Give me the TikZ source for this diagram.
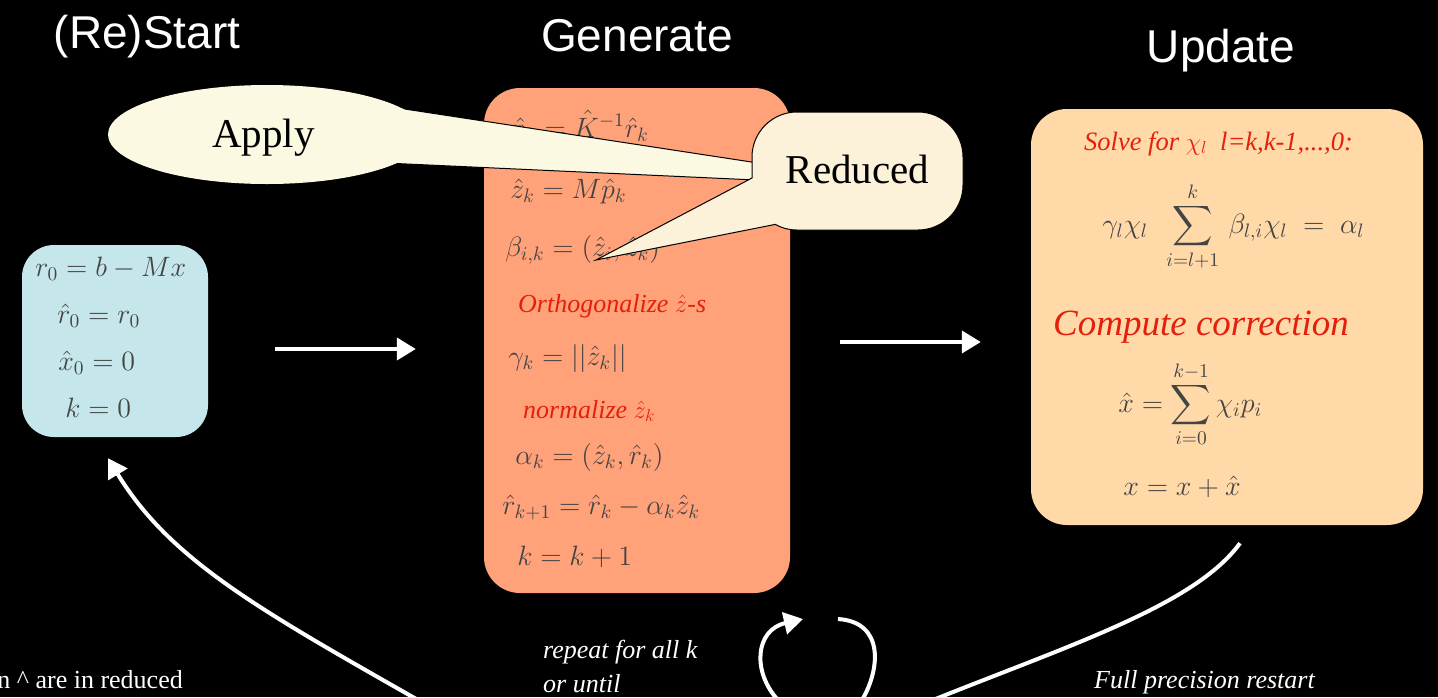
\documentclass[tikz,border=0pt]{standalone}
\usepackage{amsmath}
\usepackage[no-math]{fontspec}
\setmainfont{Liberation Serif}
\newfontfamily\helv{Liberation Sans}
\usetikzlibrary{arrows.meta,shapes.geometric,calc}
\definecolor{startcol}{RGB}{197,231,235}
\definecolor{gencol}{RGB}{255,162,122}
\definecolor{updcol}{RGB}{255,217,168}
\definecolor{applycol}{RGB}{252,249,226}
\definecolor{reducedcol}{RGB}{252,242,217}
\definecolor{redtxt}{RGB}{226,32,12}
\definecolor{mathgray}{RGB}{68,68,68}
\tikzset{
  title/.style={font=\helv\fontsize{46}{50}\selectfont, text=white, anchor=base, inner sep=0pt},
  eq/.style={font=\fontsize{14.4}{17}\selectfont, scale=1.944, text=mathgray, inner sep=0pt, anchor=base west},
  redit/.style={font=\itshape\fontsize{26}{29}\selectfont, text=redtxt, inner sep=0pt, anchor=base west},
  note/.style={font=\itshape\fontsize{26}{29}\selectfont, text=white, inner sep=0pt, anchor=base west},
  calltext/.style={font=\fontsize{41}{46}\selectfont, text=black, inner sep=0pt, anchor=base},
  flow/.style={draw=white, line width=4pt, -{Triangle[length=19pt,width=22pt]}},
  loopline/.style={draw=white, line width=4pt},
  stagebox/.style={rounded corners=32pt, inner sep=0pt, draw=none},
  calloutline/.style={draw=black, line width=1pt}
}
\begin{document}
\begin{tikzpicture}[x=1pt,y=-1pt]
\useasboundingbox (0,0) rectangle (1438,697);
\clip (0,0) rectangle (1438,697);
\fill[black] (0,0) rectangle (1438,697);

% titles
\node[title] (tstart) at (147,48) {(Re)Start};
\node[title] (tgen) at (637,51) {Generate};
\node[title] (tupd) at (1221,62) {Update};

% boxes
\node[stagebox, fill=startcol, minimum width=186pt, minimum height=192pt] (start) at (115,341) {};
\node[stagebox, fill=gencol, minimum width=306pt, minimum height=505pt, rounded corners=36pt] (generate) at (637,340.5) {};
\node[stagebox, fill=updcol, minimum width=392pt, minimum height=416pt, rounded corners=36pt] (update) at (1227,317) {};

% start contents
\node[eq] (s1) at (35,276) {$r_0 = b - Mx$};
\node[eq] (s2) at (57,323) {$\hat r_0 = r_0$};
\node[eq] (s3) at (58,370) {$\hat x_0 = 0$};
\node[eq] (s4) at (65,417) {$k = 0$};

% generate contents
\node[eq] (g1) at (511,137) {$\hat p_k = \hat K^{-1}\hat r_k$};
\node[eq] (g2) at (510,198) {$\hat z_k = M\hat p_k$};
\node[eq] (g3) at (505,256) {$\beta_{i,k} = (\hat z_i,\hat z_k)$};
\node[redit] (g4) at (518,312) {Orthogonalize $\hat z$-s};
\node[eq] (g5) at (508,365) {$\gamma_k = ||\hat z_k||$};
\node[redit] (g6) at (523,418) {normalize $\hat z_k$};
\node[eq] (g7) at (515,464) {$\alpha_k = (\hat z_k,\hat r_k)$};
\node[eq] (g8) at (502,514) {$\hat r_{k+1} = \hat r_k - \alpha_k\hat z_k$};
\node[eq] (g9) at (517,565) {$k = k+1$};

% update contents
\node[redit, font=\itshape\fontsize{26.5}{30}\selectfont] (u1) at (1084,150) {Solve for $\chi_l$\ \ l=k,k-1,...,0:};
\node[eq] (u2) at (1102,233) {$\gamma_l\chi_l\hspace{7pt}\displaystyle\sum_{i=l+1}^{k}\,\beta_{l,i}\chi_l \mathrel{\;=\;} \alpha_l$};
\node[redit, font=\itshape\fontsize{37}{41}\selectfont] (u3) at (1053,335) {Compute correction};
\node[eq] (u4) at (1118,412) {$\displaystyle\hat x = \sum_{i=0}^{k-1}\chi_i p_i$};
\node[eq] (u5) at (1123,495) {$x = x + \hat x$};

% Apply callout
\filldraw[fill=applycol, calloutline] (385,106) -- (758,163) -- (756,180) -- (385,163) -- cycle;
\node[ellipse, fill=applycol, minimum width=318pt, minimum height=99pt, inner sep=0pt] (apply) at (267,134.5) {};
\node[calltext] (applytxt) at (263.5,147) {Apply};

% Reduced callout
\filldraw[fill=reducedcol, calloutline] (596,260) -- (775.2,224.4)
  arc[start angle=119, end angle=90, radius=45] -- (918,230)
  arc[start angle=90, end angle=0, radius=45] -- (963,157)
  arc[start angle=0, end angle=-90, radius=45] -- (797,112)
  arc[start angle=-90, end angle=-180, radius=45] -- (752,178) -- cycle;
\node[calltext] (reducedtxt) at (857.5,183) {Reduced};

% flow arrows
\draw[flow] ($(start.east)+(67,8)$) -- ($(generate.west)+(-68,8.5)$);
\draw[flow] ($(generate.east)+(50,1.5)$) -- ($(update.west)+(-50,25)$);

% restart curves
\coordinate (botL) at (418,700);
\draw[flow] (botL) .. controls (260,610) and (170,560) .. ($(start.south)+(-7,21)$);
\coordinate (botR) at (933,700);
\draw[loopline] ($(update.south)+(13,18)$) .. controls (1195,605) and (1070,645) .. (botR);

% repeat loop
\coordinate (loopA) at (778,700);
\coordinate (loopB) at (803,619);
\coordinate (loopC) at (838,619);
\coordinate (loopD) at (862,700);
\draw[flow] (loopA) .. controls (752,672) and (755,630) .. (loopB);
\draw[loopline] (loopC) .. controls (885,622) and (880,670) .. (loopD);

% notes
\node[note] (rep1) at (543,658) {repeat for all k};
\node[note] (rep2) at (543,692) {or until};
\node[note] (fpr) at (1094,688) {Full precision restart};
\node[note, font=\fontsize{26}{29}\selectfont, anchor=base east] (hatnote) at (183,688) {n \textasciicircum{} are in reduced};
\end{tikzpicture}
\end{document}
